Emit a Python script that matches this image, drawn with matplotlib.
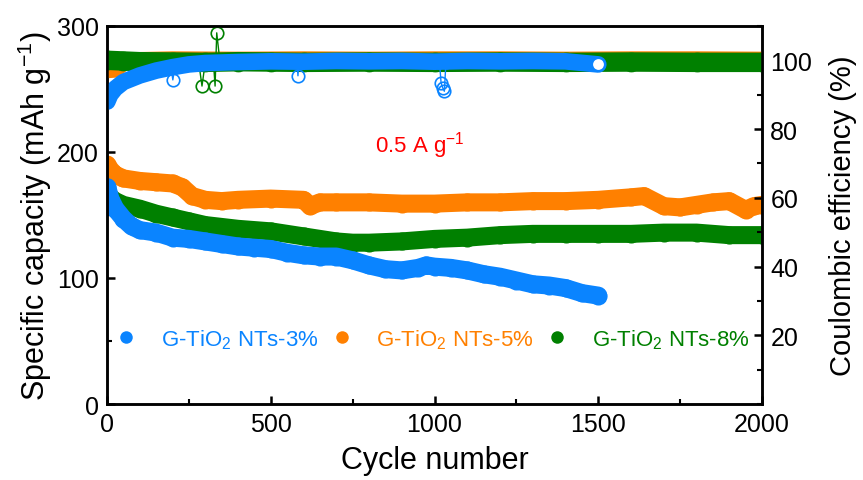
import numpy as np
import matplotlib.pyplot as plt
from matplotlib.lines import Line2D
from matplotlib.legend_handler import HandlerTuple

plt.rcParams['font.family'] = ['Liberation Sans', 'DejaVu Sans']
plt.rcParams['mathtext.fontset'] = 'custom'
plt.rcParams['mathtext.rm'] = 'Liberation Sans'
plt.rcParams['mathtext.default'] = 'regular'

blue = '#0a84ff'
orange = '#ff8000'
green = '#008000'

# specific capacity (mAh/g)
cyc3 = [1, 10, 25, 50, 75, 100, 150, 200, 250, 300, 350, 400, 450, 500, 550,
        600, 650, 700, 750, 800, 850, 900, 950, 975, 1000, 1050, 1100, 1150,
        1200, 1250, 1300, 1350, 1400, 1450, 1500]
cap3 = [172, 163, 155, 147, 141, 138, 136, 132, 131, 129, 127, 125, 124, 123, 120,
        118, 117, 117, 114, 110, 107, 106, 108, 110, 109, 108, 106, 103,
        101, 98, 95, 94, 92, 88, 86]

cyc5 = [1, 10, 25, 50, 100, 150, 200, 230, 260, 300, 350, 400, 500, 600, 620,
        650, 700, 800, 900, 1000, 1100, 1200, 1300, 1400, 1500, 1600, 1640,
        1700, 1750, 1800, 1850, 1900, 1950, 1975, 2000]
cap5 = [190, 186, 182, 179, 177, 176, 175, 172, 165, 162, 161, 162, 163, 162, 157,
        160, 160, 160, 159, 159, 160, 160, 161, 161, 162, 164, 165,
        157, 156, 158, 160, 161, 154, 157, 158]

cyc8 = [1, 10, 25, 50, 100, 150, 200, 250, 300, 400, 500, 600, 700, 750, 800,
        900, 1000, 1100, 1200, 1300, 1400, 1500, 1600, 1700, 1800, 1900, 2000]
cap8 = [167, 164, 161, 158, 155, 151, 148, 145, 142, 139, 137, 133, 129, 128, 128,
        129, 131, 132, 134, 135, 135, 135, 135, 136, 136, 134, 134]

# coulombic efficiency (%)
ce_cyc3 = [1, 10, 25, 50, 100, 150, 200, 250, 300, 400, 500, 600, 700, 800, 900,
           1000, 1100, 1200, 1300, 1400, 1500]
ce3 = [88.0, 90.0, 91.8, 93.7, 95.6, 97.0, 98.0, 98.8, 99.2, 99.5, 99.7, 99.6,
       99.8, 99.7, 99.8, 99.6, 99.8, 99.7, 99.8, 99.7, 98.8]

ce_cyc5 = [1, 30, 60, 100, 200, 400, 600, 800, 1000, 1200, 1400, 1600, 1800, 2000]
ce5 = [96.6, 96.8, 99.5, 100.6, 100.8, 100.7, 100.8, 100.7, 100.8, 100.8,
       100.7, 100.8, 100.8, 100.7]

ce_cyc8 = [1, 50, 100, 200, 300, 400, 500, 600, 800, 1000, 1200, 1400, 1600,
           1800, 2000]
ce8 = [100.0, 99.8, 99.6, 99.5, 99.4, 99.6, 99.5, 99.4, 99.5, 99.4, 99.5, 99.4,
       99.5, 99.4, 99.4]

# stray CE points
spike8_cyc = [280, 290, 300, 325, 330, 335, 345]
spike8 = [99.4, 92.5, 99.4, 99.4, 92.5, 108.0, 99.4]
spike3_cyc = [195, 201, 207, 580, 583, 586, 1015, 1020, 1025, 1030, 1035]
spike3 = [98.0, 94.3, 98.0, 99.6, 95.5, 99.6, 99.6, 93.5, 92.0, 91.0, 99.6]

labels = ['G-TiO$_2$ NTs-3%', 'G-TiO$_2$ NTs-5%', 'G-TiO$_2$ NTs-8%']

fig = plt.figure(figsize=(8.63, 4.81), dpi=100)
ax = fig.add_axes([0.124, 0.158, 0.759, 0.786])
ax2 = ax.twinx()

for c, v, col in [(cyc5, cap5, orange), (cyc8, cap8, green), (cyc3, cap3, blue)]:
    ax.plot(c, v, '-', color=col, lw=13, solid_capstyle='round')
    ax.plot(c, v, 'o', color=col, ms=13, mew=0)

ax2.plot(ce_cyc5, ce5, '-', color=orange, lw=9, solid_capstyle='round')
ax2.plot(ce_cyc8, ce8, '-', color=green, lw=14, solid_capstyle='round')
ax2.plot(ce_cyc8, ce8, 'o', mfc='none', mec=green, ms=13, mew=1.2)
ax2.plot(spike8_cyc, spike8, '-', color=green, lw=1)
ax2.plot(spike8_cyc, spike8, 'o', mfc='none', mec=green, ms=9, mew=1.2)
ax2.plot(ce_cyc3, ce3, '-', color=blue, lw=12, solid_capstyle='round')
ax2.plot(spike3_cyc, spike3, '-', color=blue, lw=1)
ax2.plot(spike3_cyc, spike3, 'o', mfc='none', mec=blue, ms=9, mew=1.2)
ax2.plot(ce_cyc3[-1:], ce3[-1:], 'o', mfc='white', mec=blue, ms=9, mew=1.2)

ax.set_xlim(0, 2000)
ax.set_ylim(0, 300)
ax2.set_ylim(0, 110)
ax.set_xticks([0, 500, 1000, 1500, 2000])
ax.set_xticks(np.arange(0, 2001, 250), minor=True)
ax.set_yticks([0, 100, 200, 300])
ax.set_yticks(np.arange(0, 301, 50), minor=True)
ax2.set_yticks([20, 40, 60, 80, 100])
ax2.set_yticks(np.arange(0, 111, 10), minor=True)

for a in (ax, ax2):
    for s in a.spines.values():
        s.set_linewidth(1.8)
    a.tick_params(which='major', direction='in', length=6, width=1.8, labelsize=18, pad=6)
    a.tick_params(which='minor', direction='in', length=3.5, width=1.5)
ax.tick_params(axis='y', right=False, which='both')
ax.tick_params(axis='x', top=False, which='both')
ax2.tick_params(axis='y', left=False, which='both')

ax.set_xlabel('Cycle number', fontsize=22, labelpad=6)
ax.set_ylabel('Specific capacity (mAh g$^{-1}$)', fontsize=22, labelpad=2)
ax2.set_ylabel('Coulombic efficiency (%)', fontsize=21, labelpad=12)

ax.text(955, 206, '0.5 A g$^{-1}$', color='red', fontsize=16, ha='center', va='center')

handles = []
for col in (blue, orange, green):
    ball = Line2D([], [], ls='none', marker='o', color=col, ms=9, mew=0)
    dot = Line2D([], [], ls='none', marker='o', color='white', ms=2.5, mew=0, alpha=0.8)
    handles.append((ball, dot))
leg = ax.legend(handles, labels, handler_map={tuple: HandlerTuple(ndivide=None, pad=0)},
                loc='center left', bbox_to_anchor=(0.021, 0.172), ncol=3, frameon=False,
                fontsize=16, handlelength=1.0, handletextpad=0.8, columnspacing=0.8,
                borderpad=0, borderaxespad=0)
for t, col in zip(leg.get_texts(), (blue, orange, green)):
    t.set_color(col)

fig.savefig('out.png', dpi=100)
